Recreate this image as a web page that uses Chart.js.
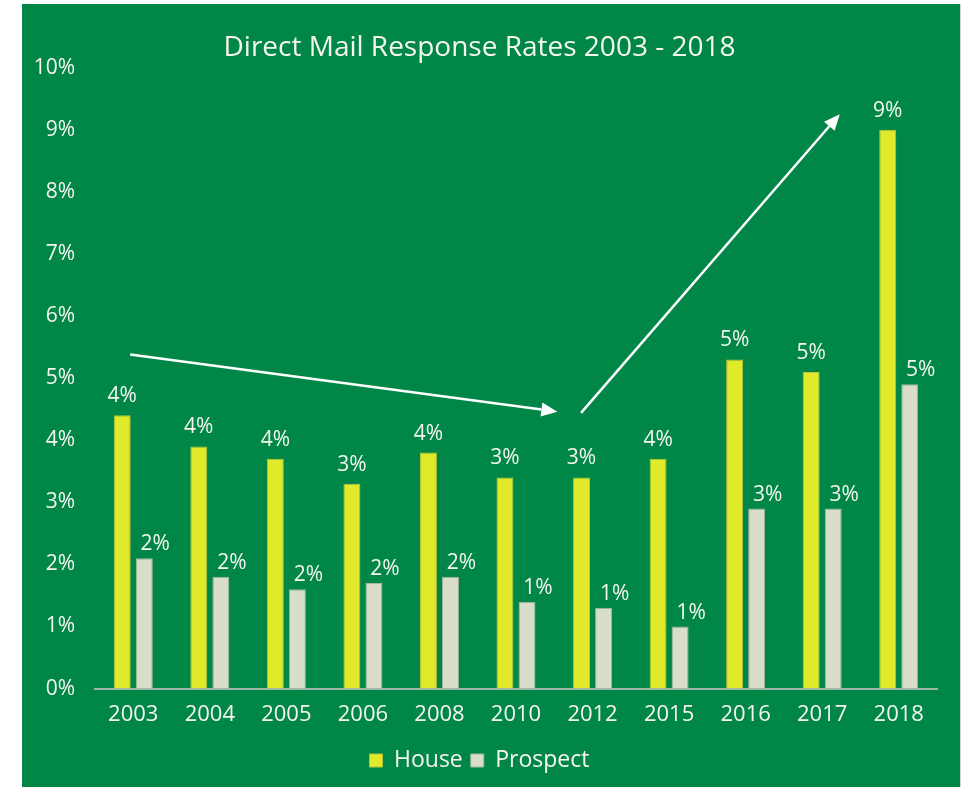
<!DOCTYPE html>
<html>
<head>
<meta charset="utf-8">
<script src="https://cdn.jsdelivr.net/npm/chart.js@4.4.1/dist/chart.umd.min.js"></script>
<style>
  html, body { margin: 0; padding: 0; background: #fff; }
  #panel {
    position: absolute; left: 22px; top: 4px;
    width: 938px; height: 783px;
    background: #008748;
    border-right: 1px solid #d0d6d0;
  }
  canvas { display: block; }
</style>
</head>
<body>
<div id="panel"><canvas id="chart" width="938" height="783"></canvas></div>
<script>
// Chart data
const years = ['2003', '2004', '2005', '2006', '2008', '2010', '2012', '2015', '2016', '2017', '2018'];
const house = [4.4, 3.9, 3.7, 3.3, 3.8, 3.4, 3.4, 3.7, 5.3, 5.1, 9.0];
const prospect = [2.1, 1.8, 1.6, 1.7, 1.8, 1.4, 1.3, 1.0, 2.9, 2.9, 4.9];
const yTicks = [0, 1, 2, 3, 4, 5, 6, 7, 8, 9, 10];

// trend arrows, in data units: [category index, value]
const arrows = [
    { from: [-0.04, 5.38], to: [5.54, 4.46] },
    { from: [5.85, 4.44], to: [9.23, 9.25] }
];

const FONT = '"Open Sans", sans-serif';
const TEXT = '#f4f6ee';

const valueLabels = {
    id: 'valueLabels',
    afterDatasetsDraw(chart) {
        const ctx = chart.ctx;
        ctx.save();
        ctx.font = '21px ' + FONT;
        ctx.fillStyle = TEXT;
        ctx.textAlign = 'center';
        ctx.textBaseline = 'alphabetic';
        chart.data.datasets.forEach((ds, i) => {
            const meta = chart.getDatasetMeta(i);
            const dx = i === 0 ? 0 : 11;
            const dy = i === 0 ? 13 : 8;
            meta.data.forEach((bar, j) => {
                ctx.fillText(Math.round(ds.data[j]) + '%', bar.x + dx, bar.y - dy);
            });
        });
        ctx.restore();
    }
};

const trendArrows = {
    id: 'trendArrows',
    afterDraw(chart) {
        const ctx = chart.ctx;
        const xs = chart.scales.x, ys = chart.scales.y;
        const px = v => xs.getPixelForValue(0) + v * (xs.getPixelForValue(1) - xs.getPixelForValue(0));
        ctx.save();
        ctx.strokeStyle = '#ffffff';
        ctx.fillStyle = '#ffffff';
        ctx.lineWidth = 2.5;
        arrows.forEach(a => {
            const x1 = px(a.from[0]), y1 = ys.getPixelForValue(a.from[1]);
            const x2 = px(a.to[0]), y2 = ys.getPixelForValue(a.to[1]);
            const ang = Math.atan2(y2 - y1, x2 - x1);
            const len = 16, half = 7;
            const bx = x2 - len * Math.cos(ang), by = y2 - len * Math.sin(ang);
            ctx.beginPath();
            ctx.moveTo(x1, y1);
            ctx.lineTo(bx, by);
            ctx.stroke();
            ctx.beginPath();
            ctx.moveTo(x2, y2);
            ctx.lineTo(bx + half * Math.sin(ang), by - half * Math.cos(ang));
            ctx.lineTo(bx - half * Math.sin(ang), by + half * Math.cos(ang));
            ctx.closePath();
            ctx.fill();
        });
        ctx.restore();
    }
};

new Chart(document.getElementById('chart'), {
    type: 'bar',
    data: {
        labels: years,
        datasets: [{
            label: 'House',
            data: house,
            backgroundColor: '#e1e92b',
            borderColor: '#b9c53a',
            borderWidth: 1
        }, {
            label: 'Prospect',
            data: prospect,
            backgroundColor: '#d8dec8',
            borderColor: '#a9b49e',
            borderWidth: 1
        }]
    },
    options: {
        responsive: false,
        animation: false,
        barPercentage: 0.77,
        categoryPercentage: 0.576,
        layout: { padding: { left: 0, right: 23, top: 0, bottom: 5 } },
        plugins: {
            title: {
                display: true,
                text: 'Direct Mail Response Rates 2003 - 2018',
                color: TEXT,
                font: { family: FONT, size: 28, weight: '400' },
                padding: { top: 27, bottom: 3 }
            },
            legend: {
                position: 'bottom',
                labels: {
                    color: TEXT,
                    font: { family: FONT, size: 23 },
                    boxWidth: 13,
                    boxHeight: 13,
                    padding: 8
                }
            },
            tooltip: { enabled: false }
        },
        scales: {
            x: {
                grid: { display: false, drawTicks: false },
                border: { color: '#9fb5a6', width: 2 },
                ticks: { color: TEXT, font: { family: FONT, size: 22 }, padding: 13 }
            },
            y: {
                min: 0,
                max: 10,
                afterBuildTicks: s => { s.ticks = yTicks.map(v => ({ value: v })); },
                afterFit: s => { s.width = 73; },
                grid: { display: false, drawTicks: false },
                border: { display: false },
                ticks: {
                    color: TEXT,
                    font: { family: FONT, size: 21 },
                    padding: 20,
                    callback: v => v + '%'
                }
            }
        }
    },
    plugins: [valueLabels, trendArrows]
});
</script>
</body>
</html>
